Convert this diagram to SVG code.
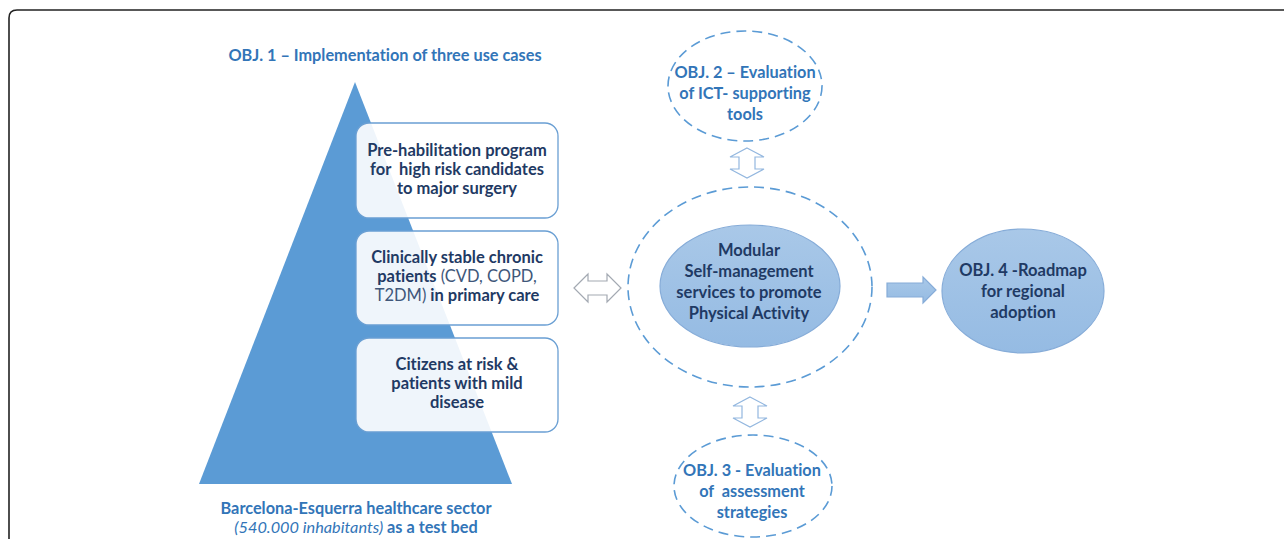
<svg xmlns="http://www.w3.org/2000/svg" width="1284" height="539" viewBox="0 0 1284 539">
  <defs>
    <style>
      .frame { fill: none; stroke: #222; stroke-width: 1.6; }
      .box { fill: #ffffff; fill-opacity: 0.9; stroke: #6a9fd3; stroke-width: 1.3; }
      .dash { fill: #ffffff; stroke: #5b9bd5; stroke-width: 1.6; stroke-dasharray: 10 6; }
      .solid { fill: url(#blueFill); stroke: #86acd8; stroke-width: 1.2; }
      .dbl { fill: #ffffff; stroke: #93b7df; stroke-width: 1.2; }
      .dbl-grey { fill: #ffffff; stroke: #a3a9b2; stroke-width: 1.2; }
      text { font-family: Lato, "Open Sans", "Liberation Sans", sans-serif; text-anchor: middle; font-variant-ligatures: none; }
      .navy { fill: #1f3a64; font-weight: 700; font-size: 16.5px; }
      .obj { fill: #3275b8; font-weight: 700; font-size: 16.3px; }
      .reg { font-weight: 400; fill: #40577a; }
      .it { font-style: italic; font-weight: 400; }
    </style>
    <linearGradient id="blueFill" x1="0" y1="0" x2="0" y2="1">
      <stop offset="0" stop-color="#a9c8e8"/>
      <stop offset="1" stop-color="#95bbe3"/>
    </linearGradient>
  </defs>

  <!-- outer page frame -->
  <path class="frame" d="M9,539 V18 Q9,10 17,10 H1284"/>

  <!-- OBJ 1: use-case pyramid -->
  <g id="obj1">
    <text class="obj" x="385" y="61">OBJ. 1 – Implementation of three use cases</text>
    <polygon points="355,82 512,484 199,484" fill="#5b9bd5"/>
  </g>

  <g id="case-prehab">
    <rect class="box" x="356" y="123" width="202" height="95" rx="13"/>
    <text class="navy" x="457" y="156">Pre-habilitation program</text>
    <text class="navy" x="457" y="175" xml:space="preserve">for  high risk candidates</text>
    <text class="navy" x="457" y="194">to major surgery</text>
  </g>

  <g id="case-chronic">
    <rect class="box" x="356" y="231" width="202" height="94" rx="13"/>
    <text class="navy" x="457" y="263">Clinically stable chronic</text>
    <text class="navy" x="457" y="282">patients <tspan class="reg">(CVD, COPD,</tspan></text>
    <text class="navy" x="457" y="301"><tspan class="reg">T2DM)</tspan> in primary care</text>
  </g>

  <g id="case-citizens">
    <rect class="box" x="356" y="338" width="202" height="94" rx="13"/>
    <text class="navy" x="457" y="370">Citizens at risk &amp;</text>
    <text class="navy" x="457" y="389">patients with mild</text>
    <text class="navy" x="457" y="408">disease</text>
  </g>

  <g id="testbed">
    <text class="obj" x="356" y="514">Barcelona-Esquerra healthcare sector</text>
    <text class="obj" x="356" y="533"><tspan class="it">(540.000 inhabitants)</tspan> as a test bed</text>
  </g>

  <!-- OBJ 2 -->
  <g id="obj2">
    <ellipse class="dash" cx="745" cy="86" rx="77" ry="55"/>
    <text class="obj" x="745" y="78">OBJ. 2 – Evaluation</text>
    <text class="obj" x="745" y="99">of ICT- supporting</text>
    <text class="obj" x="745" y="120">tools</text>
  </g>

  <!-- core services -->
  <g id="services">
    <ellipse class="dash" cx="750" cy="287" rx="122" ry="100"/>
    <ellipse class="solid" cx="750" cy="286" rx="90" ry="61"/>
    <text class="navy" x="749" y="256">Modular</text>
    <text class="navy" x="749" y="277">Self-management</text>
    <text class="navy" x="749" y="298">services to promote</text>
    <text class="navy" x="749" y="319">Physical Activity</text>
  </g>

  <!-- OBJ 3 -->
  <g id="obj3">
    <ellipse class="dash" cx="753" cy="486" rx="79" ry="51"/>
    <text class="obj" x="752" y="476">OBJ. 3 - Evaluation</text>
    <text class="obj" x="752" y="497" xml:space="preserve">of  assessment</text>
    <text class="obj" x="752" y="518">strategies</text>
  </g>

  <!-- OBJ 4 -->
  <g id="obj4">
    <ellipse class="solid" cx="1023" cy="291" rx="81" ry="62"/>
    <text class="navy" x="1023" y="276">OBJ. 4 -Roadmap</text>
    <text class="navy" x="1023" y="297">for regional</text>
    <text class="navy" x="1023" y="318">adoption</text>
  </g>

  <!-- connectors -->
  <g id="connectors">
    <path class="dbl-grey" d="M574,288 L588,274 L588,281 L607,281 L607,274 L621,288 L607,302 L607,295 L588,295 L588,302 Z"/>
    <path class="dbl" d="M747,148 L764,157 L755,157 L755,169 L764,169 L747,178 L730,169 L739,169 L739,157 L730,157 Z"/>
    <path class="dbl" d="M750,397 L767,406 L758,406 L758,418 L767,418 L750,427 L733,418 L742,418 L742,406 L733,406 Z"/>
    <path class="solid" d="M887,283 H923 V277 L936,290 L923,303 V297 H887 Z"/>
  </g>
</svg>
